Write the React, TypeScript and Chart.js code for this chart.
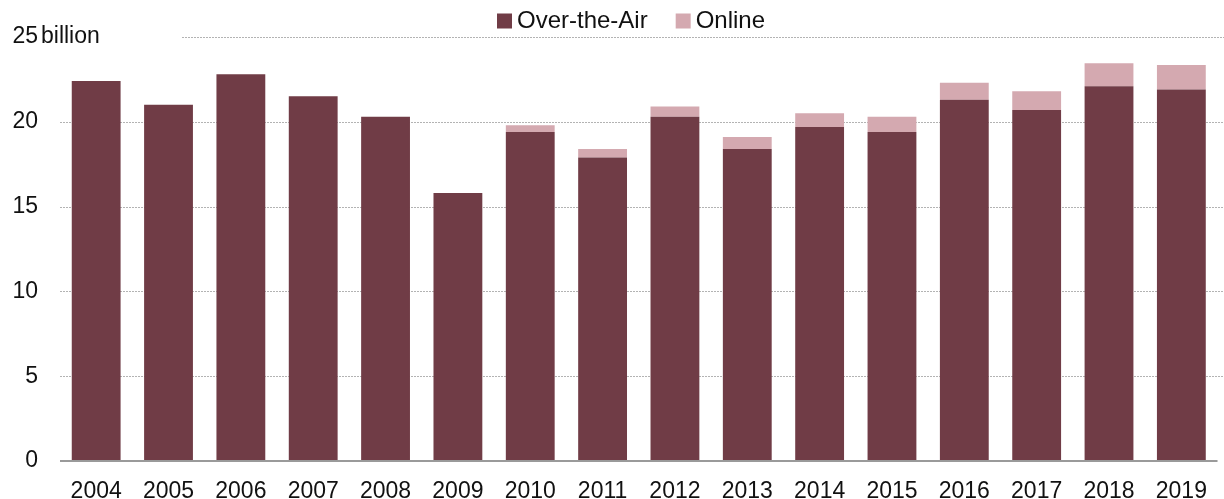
import React, { useEffect, useRef } from "react";
import { Chart, registerables } from "chart.js";

Chart.register(...registerables);

const years = ["2004","2005","2006","2007","2008","2009","2010","2011","2012","2013","2014","2015","2016","2017","2018","2019"];
const overTheAir = [22.4, 21.0, 22.8, 21.5, 20.3, 15.8, 19.4, 17.9, 20.3, 18.4, 19.7, 19.4, 21.3, 20.7, 22.1, 21.9];
const online = [0, 0, 0, 0, 0, 0, 0.4, 0.5, 0.6, 0.7, 0.8, 0.9, 1.0, 1.1, 1.35, 1.45];
const yTicks = [0, 5, 10, 15, 20, 25];
const seriesLabels = ["Over-the-Air", "Online"];
const seriesColors = ["#703c46", "#d4a9b0"];
const unitLabel = "billion";

const FONT = "'Liberation Sans', Arial, sans-serif";

const decorPlugin = {
  id: "decor",
  beforeDatasetsDraw(chart: any) {
    const { ctx, chartArea, scales } = chart;
    const y = scales.y;
    ctx.save();
    ctx.strokeStyle = "#b3b3b3";
    ctx.lineWidth = 1;
    ctx.setLineDash([2, 1]);
    for (const v of yTicks) {
      if (v === 0) continue;
      const py = Math.round(y.getPixelForValue(v)) + 0.5;
      const x0 = v === yTicks[yTicks.length - 1] ? 182 : chartArea.left;
      ctx.beginPath();
      ctx.moveTo(x0, py);
      ctx.lineTo(chart.width, py);
      ctx.stroke();
    }
    ctx.setLineDash([]);
    ctx.restore();
  },
  afterDatasetsDraw(chart: any) {
    const { ctx, chartArea, scales } = chart;
    const y = scales.y;
    ctx.save();
    const p0 = y.getPixelForValue(0);
    ctx.strokeStyle = "#9a9a9a";
    ctx.lineWidth = 2;
    ctx.beginPath();
    ctx.moveTo(chartArea.left, p0);
    ctx.lineTo(chartArea.right, p0);
    ctx.stroke();
    ctx.fillStyle = "#111";
    ctx.font = `23px ${FONT}`;
    ctx.textBaseline = "middle";
    ctx.textAlign = "left";
    ctx.fillText(unitLabel, 41, y.getPixelForValue(yTicks[yTicks.length - 1]));
    ctx.font = `24px ${FONT}`;
    let x = 497;
    const cy = 21;
    seriesLabels.forEach((lab, i) => {
      ctx.fillStyle = seriesColors[i];
      ctx.fillRect(x, cy - 7.5, 15, 15);
      ctx.fillStyle = "#111";
      ctx.fillText(lab, x + 20, cy);
      x += 20 + ctx.measureText(lab).width + 28;
    });
    ctx.restore();
  },
};

export default function App() {
  const ref = useRef<HTMLCanvasElement>(null);
  useEffect(() => {
    document.body.style.margin = "0";
    const chart = new Chart(ref.current!, {
      type: "bar",
      data: {
        labels: years,
        datasets: [
          { label: seriesLabels[0], data: overTheAir, backgroundColor: seriesColors[0], borderWidth: 0 },
          { label: seriesLabels[1], data: online, backgroundColor: seriesColors[1], borderWidth: 0 },
        ],
      },
      options: {
        animation: false,
        responsive: false,
        layout: { padding: { top: 37, right: 2, left: 0, bottom: 0 } },
        plugins: { legend: { display: false }, tooltip: { enabled: false } },
        datasets: { bar: { categoryPercentage: 1, barPercentage: 0.675 } },
        scales: {
          x: {
            stacked: true,
            grid: { display: false, drawTicks: false },
            border: { display: false },
            ticks: { color: "#111", font: { family: FONT, size: 23 }, padding: 17, maxRotation: 0, autoSkip: false },
            afterFit(s: any) { s.height = 38; },
          },
          y: {
            stacked: true,
            min: 0,
            max: 25,
            grid: { display: false, drawTicks: false },
            border: { display: false },
            ticks: { stepSize: 5, color: "#111", font: { family: FONT, size: 23 }, padding: 22 },
            afterFit(s: any) { s.width = 60; },
          },
        },
      },
      plugins: [decorPlugin],
    });
    return () => chart.destroy();
  }, []);
  return (
    <div style={{ width: 1224, height: 499 }}>
      <canvas ref={ref} width={1224} height={499} style={{ display: "block" }} />
    </div>
  );
}
